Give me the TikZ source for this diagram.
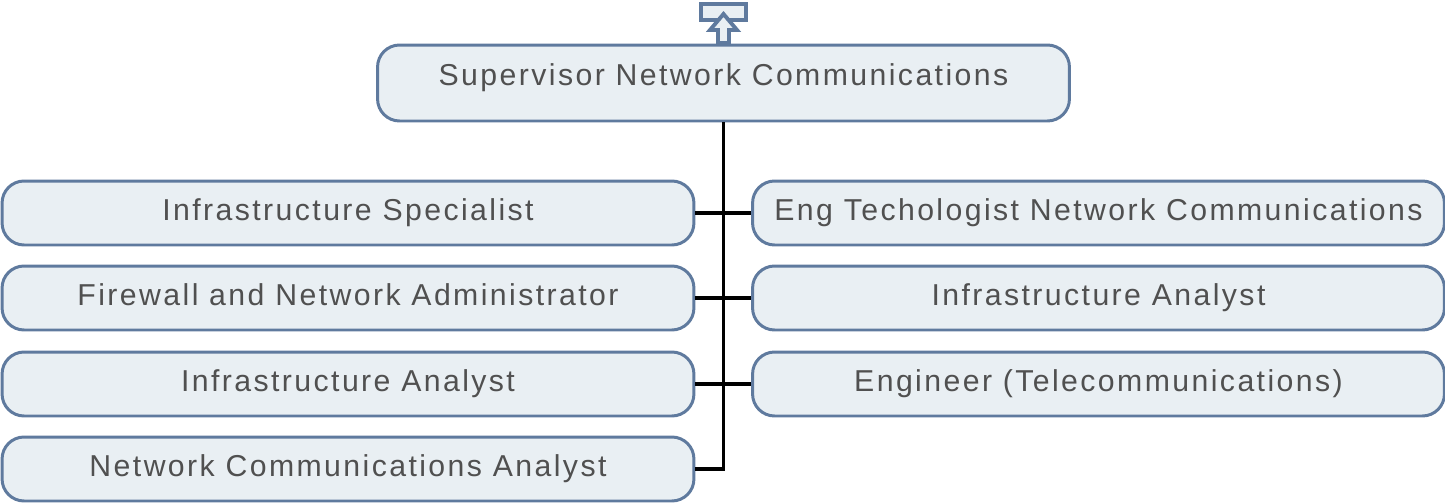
\documentclass[tikz,border=0pt]{standalone}
\usepackage{fontspec}
\setmainfont[LetterSpace=8]{Liberation Sans}
\usepackage{tikz}
\usetikzlibrary{calc, arrows.meta, positioning}

\definecolor{boxfill}{HTML}{E9EFF3}
\definecolor{boxline}{HTML}{5F7A9E}
\definecolor{boxtext}{HTML}{505050}

\tikzset{
  role/.style={draw=boxline, fill=boxfill, line width=1.7pt, rounded corners=0.44cm,
    minimum width=13.84cm, minimum height=1.28cm, inner sep=0pt,
    text height=0.96em, text depth=0.12em,
    text=boxtext, font=\fontsize{17.2}{19}\selectfont},
  link/.style={line width=1.8pt, black}
}

\begin{document}
\begin{tikzpicture}[x=0.02cm, y=-0.02cm]
  \useasboundingbox (0,0) rectangle (1445,504);

  % top box and arrow
  \node[role, minimum height=1.52cm, text height=0.7em, text depth=0.42em] (sup) at (723.5,83) {Supervisor Network Communications};
  \draw[boxline, fill=boxfill, line width=2.2pt] (701,4) rectangle (746,20);
  \draw[boxline, fill=boxfill, line width=2.2pt, line join=miter]
    (718,43) -- (718,30) -- (710,30) -- (723.5,14) -- (737,30) -- (729,30) -- (729,43) -- cycle;

  % left column
  \node[role] (l1) at (348,213) {Infrastructure Specialist};
  \node[role] (l2) at (348,298) {Firewall and Network Administrator};
  \node[role] (l3) at (348,384) {Infrastructure Analyst};
  \node[role] (l4) at (348,469) {Network Communications Analyst};

  % right column
  \node[role] (r1) at (1098.5,213) {Eng Techologist Network Communications};
  \node[role] (r2) at (1098.5,298) {Infrastructure Analyst};
  \node[role] (r3) at (1098.5,384) {Engineer (Telecommunications)};

  % connectors
  \draw[link] (sup.south) -- (sup.south |- l4.east) -- (l4.east);
  \draw[link] (l1.east) -- (r1.west);
  \draw[link] (l2.east) -- (r2.west);
  \draw[link] (l3.east) -- (r3.west);
\end{tikzpicture}
\end{document}
